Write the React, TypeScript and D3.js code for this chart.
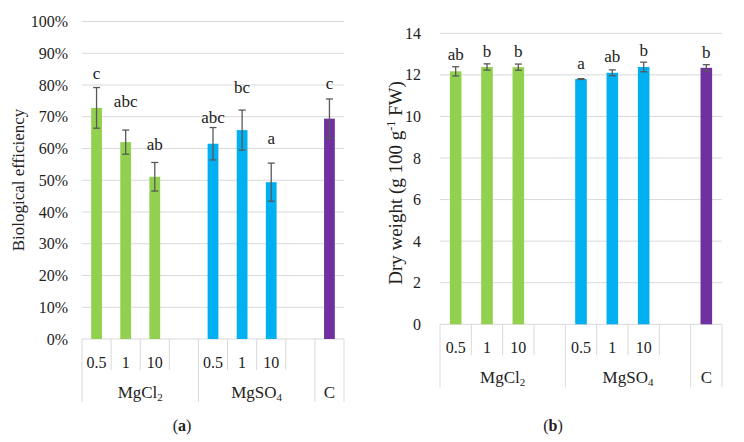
import React from 'react';
import * as d3 from 'd3';

// slots on the category axis (empty ones are the gaps Excel leaves)
const slotKeys = ['Cl-0.5', 'Cl-1', 'Cl-10', 'Cl-gap', 'SO-0.5', 'SO-1', 'SO-10', 'SO-gap', 'C'];
const slotLabels = ['0.5', '1', '10', '', '0.5', '1', '10', '', ''];
const groupNames = ['MgCl2', 'MgSO4', 'C'];
const groupSlots = [
  ['Cl-0.5', 'Cl-1', 'Cl-10', 'Cl-gap'],
  ['SO-0.5', 'SO-1', 'SO-10', 'SO-gap'],
  ['C'],
];

const barSlots = ['Cl-0.5', 'Cl-1', 'Cl-10', 'SO-0.5', 'SO-1', 'SO-10', 'C'];
const barGroup = ['MgCl2', 'MgCl2', 'MgCl2', 'MgSO4', 'MgSO4', 'MgSO4', 'C'];

// (a) biological efficiency, %
const effValues = [72.8, 62, 51.1, 61.5, 65.8, 49.4, 69.4];
const effErr = [6.4, 3.8, 4.5, 5.1, 6.3, 6, 6.2];
const effLetters = ['c', 'abc', 'ab', 'abc', 'bc', 'a', 'c'];
const effLetterAt = [83.5, 74.6, 61.1, 69.6, 79.1, 62.9, 80.3];
const effTicks = [0, 10, 20, 30, 40, 50, 60, 70, 80, 90, 100];

// (b) dry weight, g 100 g-1 FW
const dwValues = [12.17, 12.38, 12.37, 11.8, 12.1, 12.38, 12.34];
const dwErr = [0.22, 0.15, 0.15, 0.02, 0.14, 0.23, 0.15];
const dwLetters = ['ab', 'b', 'b', 'a', 'ab', 'b', 'b'];
const dwLetterAt = [12.95, 13.12, 13.12, 12.53, 12.86, 13.15, 13.07];
const dwTicks = [0, 2, 4, 6, 8, 10, 12, 14];

const colors: Record<string, string> = { MgCl2: '#92D050', MgSO4: '#00B0F0', C: '#7030A0' };
const FONT = '"Liberation Serif", "Times New Roman", serif';
const GRID = '#D9D9D9';
const ERR = '#595959';

function GroupName({ name, x, y }: { name: string; x: number; y: number }) {
  if (name === 'MgCl2')
    return (
      <text x={x} y={y} textAnchor="middle" fontSize={17}>
        MgCl<tspan fontSize={11} dy={3}>2</tspan>
      </text>
    );
  if (name === 'MgSO4')
    return (
      <text x={x} y={y} textAnchor="middle" fontSize={17}>
        MgSO<tspan fontSize={11} dy={3}>4</tspan>
      </text>
    );
  return <text x={x} y={y} textAnchor="middle" fontSize={17}>{name}</text>;
}

type PanelProps = {
  left: number; right: number; top: number; bottom: number;
  max: number; ticks: number[]; fmt: (v: number) => string;
  values: number[]; err: number[]; letters: string[]; letterAt: number[];
  tickX: number;
  title: React.ReactNode; titleX: number; titleY: number; titleSize: number;
  caption: string; capX: number; capY: number;
};

function Panel(p: PanelProps) {
  const x = d3.scaleBand<string>().domain(slotKeys).range([p.left, p.right]).paddingInner(0).paddingOuter(0);
  const y = d3.scaleLinear().domain([0, p.max]).range([p.bottom, p.top]);
  const bw = x.bandwidth() * 0.37;
  const cap = 3.5;
  const row1 = p.bottom + 23;
  const innerEnd = p.bottom + 31;
  const row2 = p.bottom + 59;
  const outerEnd = p.bottom + 63;

  // boundaries between groups
  const groupEdges = [p.left, ...groupSlots.map(g => (x(g[g.length - 1]) as number) + x.bandwidth())];

  return (
    <g fontFamily={FONT} fontSize={16} fill="#222">
      {p.ticks.map(t => (
        <g key={t}>
          <line x1={p.left} x2={p.right} y1={y(t)} y2={y(t)} stroke={GRID} strokeWidth={1} />
          <text x={p.tickX} y={y(t)} dy="0.35em" textAnchor="end">{p.fmt(t)}</text>
        </g>
      ))}

      {/* inner dividers between sub categories */}
      {slotKeys.map((k, i) => {
        const xe = x(k) as number;
        if (i === 0) return null;
        if (groupEdges.some(e => Math.abs(e - xe) < 0.5)) return null;
        return <line key={k} x1={xe} x2={xe} y1={p.bottom} y2={innerEnd} stroke={GRID} />;
      })}
      {groupEdges.map((e, i) => (
        <line key={'g' + i} x1={e} x2={e} y1={p.bottom} y2={outerEnd} stroke={GRID} />
      ))}

      {slotKeys.map((k, i) => (
        <text key={'l' + k} x={(x(k) as number) + x.bandwidth() / 2} y={row1} dy="0.35em" textAnchor="middle">
          {slotLabels[i]}
        </text>
      ))}
      {groupNames.map((g, i) => {
        const s = groupSlots[i];
        const cx = ((x(s[0]) as number) + (x(s[s.length - 1]) as number) + x.bandwidth()) / 2;
        return <GroupName key={g} name={g} x={cx} y={row2} />;
      })}

      {barSlots.map((k, i) => {
        const cx = (x(k) as number) + x.bandwidth() / 2;
        const v = p.values[i];
        const hi = y(v + p.err[i]);
        const lo = y(v - p.err[i]);
        return (
          <g key={'b' + k}>
            <rect x={cx - bw / 2} y={y(v)} width={bw} height={p.bottom - y(v)} fill={colors[barGroup[i]]} />
            <line x1={cx} x2={cx} y1={hi} y2={lo} stroke={ERR} strokeWidth={1.3} />
            <line x1={cx - cap} x2={cx + cap} y1={hi} y2={hi} stroke={ERR} strokeWidth={1.3} />
            <line x1={cx - cap} x2={cx + cap} y1={lo} y2={lo} stroke={ERR} strokeWidth={1.3} />
            <text x={cx} y={y(p.letterAt[i])} dy="0.3em" textAnchor="middle" fontSize={17}>{p.letters[i]}</text>
          </g>
        );
      })}

      <text transform={`translate(${p.titleX},${p.titleY}) rotate(-90)`} textAnchor="middle" dy="0.35em" fontSize={p.titleSize}>
        {p.title}
      </text>
      <text x={p.capX} y={p.capY} textAnchor="middle">
        (<tspan fontWeight="bold">{p.caption}</tspan>)
      </text>
    </g>
  );
}

export default function App() {
  return (
    <svg width={744} height={442} style={{ position: 'absolute', left: 0, top: 0, background: '#fff' }}>
      <Panel
        left={82} right={344} top={21.5} bottom={339}
        max={100} ticks={effTicks} fmt={v => `${v}%`}
        values={effValues} err={effErr} letters={effLetters} letterAt={effLetterAt}
        tickX={68}
        title="Biological efficiency" titleX={18} titleY={180} titleSize={17}
        caption="a" capX={182} capY={431}
      />
      <Panel
        left={440} right={722} top={33.3} bottom={324.3}
        max={14} ticks={dwTicks} fmt={v => `${v}`}
        values={dwValues} err={dwErr} letters={dwLetters} letterAt={dwLetterAt}
        tickX={421}
        title={<>Dry weight (g 100 g<tspan fontSize={12} dy={-7}>-1</tspan><tspan dy={7}> FW)</tspan></>}
        titleX={395} titleY={183} titleSize={19}
        caption="b" capX={553} capY={431}
      />
    </svg>
  );
}
